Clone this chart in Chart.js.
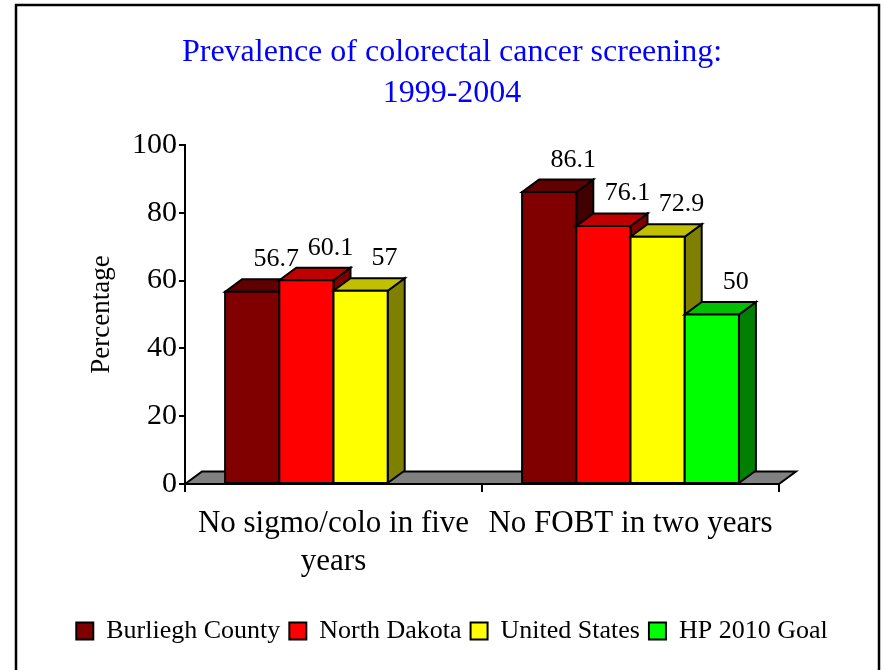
<!DOCTYPE html>
<html>
<head>
<meta charset="utf-8">
<script src="https://cdn.jsdelivr.net/npm/chart.js@4.4.1/dist/chart.umd.min.js"></script>
<style>
  body { margin: 0; background: #fff; }
</style>
</head>
<body>
<canvas id="chart" width="884" height="670"></canvas>
<script>
// data
var categories = [['No sigmo/colo in five', 'years'], 'No FOBT in two years'];
var seriesNames = ['Burliegh County', 'North Dakota', 'United States', 'HP 2010 Goal'];
var burliegh = [56.7, 86.1];
var northDakota = [60.1, 76.1];
var unitedStates = [57, 72.9];
var hpGoal = [null, 50];
var yTicks = [0, 20, 40, 60, 80, 100];

// face colours: front, top, side
var frontColors = ['#800000', '#FF0000', '#FFFF00', '#00FF00'];
var topColors = ['#600000', '#C00000', '#C0C000', '#00C000'];
var sideColors = ['#400000', '#800000', '#808000', '#008000'];

var FONT = "'Liberation Serif', 'Times New Roman', serif";
var DX = 17, DY = 12.5;
var PAD_LEFT = 20;

function poly(ctx, pts, fill) {
    ctx.beginPath();
    ctx.moveTo(pts[0][0], pts[0][1]);
    for (var i = 1; i < pts.length; i++) ctx.lineTo(pts[i][0], pts[i][1]);
    ctx.closePath();
    ctx.fillStyle = fill;
    ctx.fill();
    ctx.stroke();
}

var frame = {
    id: 'frame',
    beforeDraw: function (chart) {
        var ctx = chart.ctx;
        ctx.save();
        ctx.fillStyle = '#fff';
        ctx.fillRect(0, 0, chart.width, chart.height);
        ctx.lineWidth = 2.5;
        ctx.strokeStyle = '#000';
        ctx.strokeRect(16, 5, 863, 700);
        ctx.restore();
    }
};

// draws floor + the bars as boxes, in the order Excel stacks them
var bars3d = {
    id: 'bars3d',
    beforeDatasetsDraw: function (chart) {
        var ctx = chart.ctx, a = chart.chartArea;
        ctx.save();
        ctx.lineWidth = 2;
        ctx.strokeStyle = '#000';
        ctx.lineJoin = 'miter';
        poly(ctx, [[a.left, a.bottom], [a.left + DX, a.bottom - DY],
            [a.right + DX, a.bottom - DY], [a.right, a.bottom]], '#808080');

        for (var c = 0; c < chart.data.labels.length; c++) {
            chart.data.datasets.forEach(function (ds, d) {
                if (ds.data[c] == null) return;
                var el = chart.getDatasetMeta(d).data[c];
                var l = el.x - el.width / 2, r = el.x + el.width / 2, t = el.y, b = el.base;
                poly(ctx, [[r, b], [r + DX, b - DY], [r + DX, t - DY], [r, t]], sideColors[d]);
                poly(ctx, [[l, t], [l + DX, t - DY], [r + DX, t - DY], [r, t]], topColors[d]);
                poly(ctx, [[l, b], [l, t], [r, t], [r, b]], frontColors[d]);
            });
        }
        ctx.restore();
        return false;
    },
    afterDraw: function (chart) {
        var ctx = chart.ctx;
        ctx.save();
        ctx.font = '26px ' + FONT;
        ctx.fillStyle = '#000';
        ctx.textAlign = 'center';
        ctx.textBaseline = 'alphabetic';
        chart.data.datasets.forEach(function (ds, d) {
            chart.getDatasetMeta(d).data.forEach(function (el, c) {
                if (ds.data[c] == null) return;
                ctx.fillText(String(ds.data[c]), el.x + DX + 7, el.y - DY - 13);
            });
        });
        ctx.restore();
    }
};

var allSeries = [burliegh, northDakota, unitedStates, hpGoal];

new Chart(document.getElementById('chart'), {
    type: 'bar',
    data: {
        labels: categories,
        datasets: seriesNames.map(function (name, i) {
            return {
                label: name,
                data: allSeries[i],
                backgroundColor: frontColors[i],
                borderColor: '#000',
                borderWidth: 2
            };
        })
    },
    options: {
        responsive: false,
        animation: false,
        layout: { padding: { left: PAD_LEFT, right: 0, top: 0, bottom: 16 } },
        datasets: { bar: { barPercentage: 1, categoryPercentage: 0.73 } },
        plugins: {
            tooltip: { enabled: false },
            title: {
                display: true,
                text: ['Prevalence of colorectal cancer screening:', '1999-2004'],
                color: '#0000FF',
                font: { family: FONT, size: 32, weight: 'normal', lineHeight: 1.28 },
                padding: { top: 32, bottom: 31 }
            },
            legend: {
                position: 'bottom',
                labels: {
                    color: '#000',
                    font: { family: FONT, size: 26 },
                    boxWidth: 17,
                    boxHeight: 17,
                    padding: 9,
                    generateLabels: function (chart) {
                        return chart.data.datasets.map(function (ds, i) {
                            return {
                                text: ds.label,
                                fillStyle: frontColors[i],
                                strokeStyle: '#000',
                                lineWidth: 2,
                                datasetIndex: i
                            };
                        });
                    }
                }
            }
        },
        scales: {
            x: {
                grid: { drawOnChartArea: false, offset: true, tickLength: 8, color: '#000', lineWidth: 2 },
                border: { display: true, color: '#000', width: 2 },
                ticks: { color: '#000', padding: 12, maxRotation: 0, font: { family: FONT, size: 31, lineHeight: 1.25 } },
                afterFit: function (s) { s.height = 125; }
            },
            y: {
                min: 0,
                max: 100,
                afterBuildTicks: function (s) { s.ticks = yTicks.map(function (v) { return { value: v }; }); },
                grid: { drawOnChartArea: false, tickLength: 6, color: '#000', lineWidth: 2 },
                border: { display: true, color: '#000', width: 2 },
                ticks: { color: '#000', padding: 2, font: { family: FONT, size: 30 } },
                title: {
                    display: true,
                    text: 'Percentage',
                    color: '#000',
                    font: { family: FONT, size: 27 },
                    padding: { top: 66 }
                },
                afterFit: function (s) { s.width = 185 - PAD_LEFT; }
            },
            spacer: {
                position: 'right',
                grid: { display: false },
                border: { display: false },
                ticks: { display: false },
                afterFit: function (s) { s.width = 105; }
            }
        }
    },
    plugins: [frame, bars3d]
});
</script>
</body>
</html>
